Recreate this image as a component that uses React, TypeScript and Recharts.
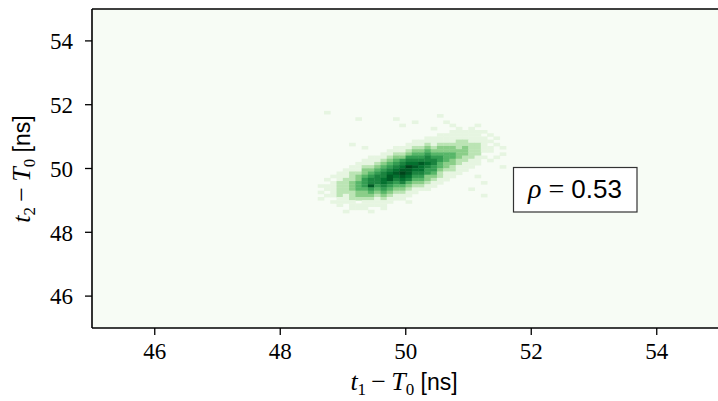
import React from 'react';
import { ScatterChart, Scatter, XAxis, YAxis, CartesianGrid, ReferenceLine, Customized } from 'recharts';

// 2d histogram of (t1 - T0, t2 - T0), 0.1 ns bins, levels 0..9
// first row is the top one (t2 from 51.9 down), first column starts at t1 = 48.6
const X_START = 48.6;
const Y_TOP = 51.9;
const BIN = 0.1;

const COUNT_ROWS = [
  '000000000000000000000000000000',
  '010000000000000000000000000000',
  '000000000000000000010000000000',
  '000000100000100000000000000000',
  '000000000000000100001000000000',
  '000000000000010000000100010000',
  '000000000000000000100010100000',
  '000000000000000000000111111000',
  '000000000000000000011111110100',
  '000000000000000001111111111010',
  '000000000000000111111122111100',
  '000001000000001112122222221010',
  '000000010000111223233323221101',
  '000000000001112334333333221100',
  '000000000011223445444433220001',
  '000000001112335556554432211010',
  '000000011123456666654322110100',
  '000000111234567787643321110000',
  '000001122345679876543211100001',
  '000011133456788775532211000000',
  '000112234567898665421110000000',
  '001112345668787553321100010000',
  '010122356678676443211000000000',
  '001223456676564332110000001000',
  '111223458565443221100000000000',
  '011223445454332111000000100000',
  '101222334343221100000000000000',
  '011212333232111000000000001000',
  '100112222121110000000000000000',
  '001111011111001000000000000000',
  '000101111110000000000000000000',
  '000001110010000000000000000000',
  '000010001000000000000000000000',
];

const X_DOMAIN = [45, 55];
const Y_DOMAIN = [45, 55];
const X_TICKS = [46, 48, 50, 52, 54];
const Y_TICKS = [46, 48, 50, 52, 54];
const RHO = '0.53';

// matplotlib "Greens"
const GREENS = ['#f7fcf5', '#e5f5e0', '#c7e9c0', '#a1d99b', '#74c476', '#41ab5d', '#238b45', '#006d2c', '#00441b'];
const LEVEL_T = [0, 0.12, 0.29, 0.44, 0.57, 0.68, 0.78, 0.86, 0.93, 1];

const W = 722;
const H = 401;
const M = { top: 9, right: 2.5, left: 0, bottom: 0 };
const Y_AXIS_W = 92;
const X_AXIS_H = 73;
const PLOT_W = W - Y_AXIS_W - M.right;
const PLOT_H = H - M.top - X_AXIS_H;
const CELL_W = (PLOT_W * BIN) / (X_DOMAIN[1] - X_DOMAIN[0]);
const CELL_H = (PLOT_H * BIN) / (Y_DOMAIN[1] - Y_DOMAIN[0]);

const SERIF = '"Liberation Serif", "DejaVu Serif", serif';
const SANS = '"Liberation Sans", "DejaVu Sans", sans-serif';

function hexToRgb(h: string) {
  const n = parseInt(h.slice(1), 16);
  return [(n >> 16) & 255, (n >> 8) & 255, n & 255];
}

function greens(t: number) {
  const p = Math.max(0, Math.min(1, t)) * (GREENS.length - 1);
  const i = Math.min(Math.floor(p), GREENS.length - 2);
  const f = p - i;
  const a = hexToRgb(GREENS[i]);
  const b = hexToRgb(GREENS[i + 1]);
  const c = a.map((v, k) => Math.round(v + (b[k] - v) * f));
  return `rgb(${c[0]},${c[1]},${c[2]})`;
}

const cells: { x: number; y: number; v: number }[] = [];
COUNT_ROWS.forEach((row, r) => {
  row.split('').forEach((ch, c) => {
    const v = Number(ch);
    if (v > 0) {
      cells.push({
        x: +(X_START + BIN * (c + 0.5)).toFixed(3),
        y: +(Y_TOP - BIN * (r + 0.5)).toFixed(3),
        v,
      });
    }
  });
});

const Cell2D = (props: any) => {
  const { cx, cy, payload } = props;
  if (cx == null || cy == null) return null;
  return (
    <rect
      x={cx - CELL_W / 2 - 0.2}
      y={cy - CELL_H / 2 - 0.2}
      width={CELL_W + 0.4}
      height={CELL_H + 0.4}
      fill={greens(LEVEL_T[payload.v])}
      stroke="none"
    />
  );
};

const XTick = (props: any) => (
  <text x={props.x} y={props.y} dy="0.71em" textAnchor="middle" fontSize={23} fontFamily={SERIF} fill="#000">
    {props.payload.value}
  </text>
);

const YTick = (props: any) => (
  <text x={props.x} y={props.y} dy="0.36em" textAnchor="end" fontSize={23} fontFamily={SERIF} fill="#000">
    {props.payload.value}
  </text>
);

const Labels = () => (
  <g>
    <text x={404} y={390} textAnchor="middle" fontSize={26} fontFamily={SERIF} fill="#000">
      <tspan fontStyle="italic">t</tspan>
      <tspan fontSize={17} dy={5}>1</tspan>
      <tspan dy={-5}>{'\u2009−\u2009'}</tspan>
      <tspan fontStyle="italic">T</tspan>
      <tspan fontSize={17} dy={5}>0</tspan>
      <tspan dy={-5} fontFamily={SANS} fontSize={23}> [ns]</tspan>
    </text>
    <text transform="translate(30,169) rotate(-90)" textAnchor="middle" fontSize={26} fontFamily={SERIF} fill="#000">
      <tspan fontStyle="italic">t</tspan>
      <tspan fontSize={17} dy={5}>2</tspan>
      <tspan dy={-5}>{'\u2009−\u2009'}</tspan>
      <tspan fontStyle="italic">T</tspan>
      <tspan fontSize={17} dy={5}>0</tspan>
      <tspan dy={-5} fontFamily={SANS} fontSize={23}> [ns]</tspan>
    </text>
    <rect x={513.5} y={167.5} width={123.5} height={44.5} fill="#fff" stroke="#333" strokeWidth={1.2} />
    <text x={575} y={198} textAnchor="middle" fontSize={28} fontFamily={SERIF} fill="#000">
      <tspan fontStyle="italic">ρ</tspan>
      <tspan> = </tspan>
      <tspan fontFamily={SANS} fontSize={26}>{RHO}</tspan>
    </text>
  </g>
);

export default function App() {
  return (
    <div style={{ position: 'absolute', left: 0, top: 0, width: 718, height: 401, overflow: 'hidden', background: '#fff' }}>
      <ScatterChart width={W} height={H} margin={M}>
        <CartesianGrid horizontal={false} vertical={false} fill={GREENS[0]} fillOpacity={1} />
        <XAxis
          type="number"
          dataKey="x"
          domain={X_DOMAIN}
          ticks={X_TICKS}
          allowDataOverflow
          height={X_AXIS_H}
          tickSize={7}
          tickMargin={8}
          axisLine={{ stroke: '#000', strokeWidth: 1.6 }}
          tickLine={{ stroke: '#000', strokeWidth: 1.3 }}
          tick={XTick}
        />
        <YAxis
          type="number"
          dataKey="y"
          domain={Y_DOMAIN}
          ticks={Y_TICKS}
          allowDataOverflow
          width={Y_AXIS_W}
          tickSize={7}
          tickMargin={12}
          axisLine={{ stroke: '#000', strokeWidth: 1.6 }}
          tickLine={{ stroke: '#000', strokeWidth: 1.3 }}
          tick={YTick}
        />
        <Scatter data={cells} shape={Cell2D} isAnimationActive={false} />
        <ReferenceLine y={55} stroke="#000" strokeWidth={1.6} />
        <Customized component={Labels} />
      </ScatterChart>
    </div>
  );
}
